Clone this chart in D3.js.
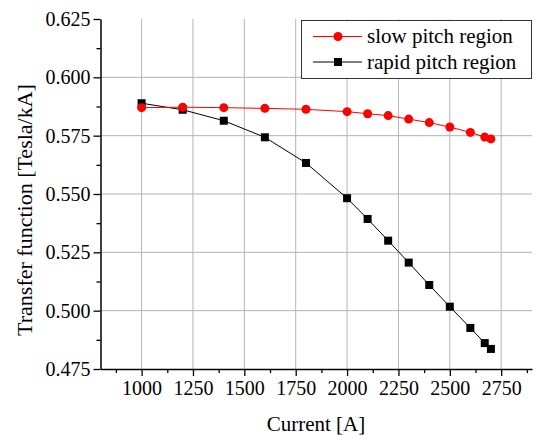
<!DOCTYPE html>
<html lang='en'>
	<head>
		<meta charset='utf-8'>
		<title>Transfer function</title>
		<script src="https://cdn.jsdelivr.net/npm/d3@7"></script>
		<style type="text/css">
			body { margin: 0; background: #fff; }
		</style>
	</head>
	<body>
		<script type='text/javascript'>
			//Data
			var currents = [1000, 1200, 1400, 1600, 1800, 2000, 2100, 2200, 2300, 2400, 2500, 2600, 2670, 2700];
			var slowPitch = [0.5870, 0.5872, 0.5870, 0.5867, 0.5863, 0.5853, 0.5844, 0.5836, 0.5821, 0.5806, 0.5787, 0.5764, 0.5744, 0.5736];
			var rapidPitch = [0.5889, 0.5861, 0.5814, 0.5743, 0.5633, 0.5482, 0.5393, 0.5300, 0.5206, 0.5110, 0.5017, 0.4926, 0.4861, 0.4836];
			var xTicks = [1000, 1250, 1500, 1750, 2000, 2250, 2500, 2750];
			var yTicks = [0.475, 0.500, 0.525, 0.550, 0.575, 0.600, 0.625];
			var seriesNames = ["slow pitch region", "rapid pitch region"];

			var serif = "'Liberation Serif', 'Times New Roman', 'DejaVu Serif', serif";

			//Width and height
			var w = 535;
			var h = 435;
			var pLeft = 100.5, pRight = 532, pTop = 19, pBottom = 369;

			var svg = d3.select("body")
						.append("svg")
						.attr("width", w)
						.attr("height", h);

			var x = d3.scaleLinear().domain([800, 2900]).range([pLeft, pRight]);
			var y = d3.scaleLinear().domain([0.475, 0.625]).range([pBottom, pTop]);

			//Grid lines
			svg.selectAll(".vgrid")
			   .data(xTicks)
			   .enter()
			   .append("line")
			   .attr("x1", function(d) { return x(d); })
			   .attr("x2", function(d) { return x(d); })
			   .attr("y1", pTop)
			   .attr("y2", pBottom)
			   .attr("stroke", "#b4b4b4")
			   .attr("stroke-width", 1);

			svg.selectAll(".hgrid")
			   .data(yTicks.slice(1, -1))
			   .enter()
			   .append("line")
			   .attr("x1", pLeft)
			   .attr("x2", pRight)
			   .attr("y1", function(d) { return y(d); })
			   .attr("y2", function(d) { return y(d); })
			   .attr("stroke", "#b4b4b4")
			   .attr("stroke-width", 1);

			//Minor ticks
			var xMinor = d3.range(875, 2900, 125).filter(function(d) { return xTicks.indexOf(d) < 0; });
			var yMinor = d3.range(0.4875, 0.625, 0.025);

			var xAxis = d3.axisBottom(x).tickValues(xTicks).tickSize(7).tickSizeOuter(0).tickPadding(5)
						  .tickFormat(d3.format("d"));
			var yAxis = d3.axisLeft(y).tickValues(yTicks).tickSize(7).tickSizeOuter(0).tickPadding(3)
						  .tickFormat(d3.format(".3f"));

			var gx = svg.append("g")
						.attr("transform", "translate(0," + pBottom + ")")
						.call(xAxis);
			var gy = svg.append("g")
						.attr("transform", "translate(" + pLeft + ",0)")
						.call(yAxis);

			svg.append("g")
			   .attr("transform", "translate(0," + pBottom + ")")
			   .call(d3.axisBottom(x).tickValues(xMinor).tickSize(4).tickSizeOuter(0).tickFormat(""))
			   .select(".domain").remove();
			svg.append("g")
			   .attr("transform", "translate(" + pLeft + ",0)")
			   .call(d3.axisLeft(y).tickValues(yMinor).tickSize(4).tickSizeOuter(0).tickFormat(""))
			   .select(".domain").remove();

			svg.selectAll(".domain").attr("stroke", "#000").attr("stroke-width", 1.5);
			svg.selectAll(".tick line").attr("stroke", "#000").attr("stroke-width", 1.3);
			svg.selectAll("g").attr("font-family", null);
			gx.selectAll("text").style("font-size", "20px");
			gy.selectAll("text").style("font-size", "20px");

			//Axis titles
			svg.append("text")
			   .attr("x", 316)
			   .attr("y", 431)
			   .attr("text-anchor", "middle")
			   .style("font-size", "21px")
			   .text("Current [A]");

			svg.append("text")
			   .attr("transform", "translate(31.5," + 210 + ") rotate(-90)")
			   .attr("text-anchor", "middle")
			   .style("font-size", "22px")
			   .text("Transfer function [Tesla/kA]");

			//Lines
			var line = d3.line()
						 .x(function(d) { return x(d[0]); })
						 .y(function(d) { return y(d[1]); });

			var slowData = currents.map(function(c, i) { return [c, slowPitch[i]]; });
			var rapidData = currents.map(function(c, i) { return [c, rapidPitch[i]]; });

			svg.append("path")
			   .datum(rapidData)
			   .attr("d", line)
			   .attr("fill", "none")
			   .attr("stroke", "#000")
			   .attr("stroke-width", 1);

			svg.append("path")
			   .datum(slowData)
			   .attr("d", line)
			   .attr("fill", "none")
			   .attr("stroke", "#ff0000")
			   .attr("stroke-width", 1);

			svg.selectAll(".sq")
			   .data(rapidData)
			   .enter()
			   .append("rect")
			   .attr("x", function(d) { return x(d[0]) - 4; })
			   .attr("y", function(d) { return y(d[1]) - 4; })
			   .attr("width", 8)
			   .attr("height", 8)
			   .attr("fill", "#000");

			svg.selectAll(".dot")
			   .data(slowData)
			   .enter()
			   .append("circle")
			   .attr("cx", function(d) { return x(d[0]); })
			   .attr("cy", function(d) { return y(d[1]); })
			   .attr("r", 4.5)
			   .attr("fill", "#ff0000");

			//Legend
			var lg = svg.append("g");
			lg.append("rect")
			  .attr("x", 301.5)
			  .attr("y", 20.5)
			  .attr("width", 230)
			  .attr("height", 58)
			  .attr("fill", "#fff")
			  .attr("stroke", "#333")
			  .attr("stroke-width", 1);

			var rows = [36.5, 62];
			var colors = ["#ff0000", "#000"];
			seriesNames.forEach(function(name, i) {
				lg.append("line")
				  .attr("x1", 313).attr("x2", 362)
				  .attr("y1", rows[i]).attr("y2", rows[i])
				  .attr("stroke", colors[i]).attr("stroke-width", 1);
				if (i === 0) {
					lg.append("circle").attr("cx", 338).attr("cy", rows[i]).attr("r", 4.5).attr("fill", colors[i]);
				} else {
					lg.append("rect").attr("x", 334).attr("y", rows[i] - 4).attr("width", 8).attr("height", 8).attr("fill", colors[i]);
				}
				lg.append("text")
				  .attr("x", 367)
				  .attr("y", rows[i])
				  .attr("dy", "0.33em")
				  .style("font-size", "21px")
				  .text(name);
			});

			//All texts in a serif face, black
			svg.selectAll("text")
			   .style("font-family", serif)
			   .attr("fill", "#000");
		</script>
	</body>
</html>
